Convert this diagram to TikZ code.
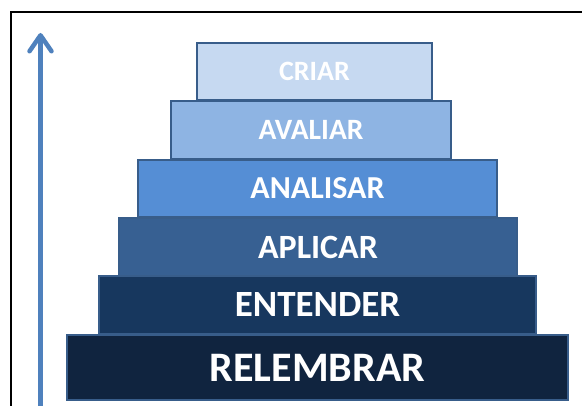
\documentclass[tikz,border=0pt]{standalone}
\usepackage{fontspec}
\setmainfont{Carlito}
\usepackage{tikz}
\usetikzlibrary{arrows.meta}

\definecolor{criarfill}{HTML}{C6D9F1}
\definecolor{avaliarfill}{HTML}{8EB4E3}
\definecolor{analisarfill}{HTML}{558ED5}
\definecolor{aplicarfill}{HTML}{376092}
\definecolor{entenderfill}{HTML}{17375E}
\definecolor{relembrarfill}{HTML}{10243F}
\definecolor{tieredge}{HTML}{385D8A}
\definecolor{arrowblue}{HTML}{4F81BD}

\newcommand{\tiersize}[1]{\fontsize{#1}{#1}\selectfont\bfseries}

\tikzset{
  tier/.style={draw=tieredge, line width=1.8pt, text=white, inner sep=0pt}
}

\begin{document}
\begin{tikzpicture}[x=1pt, y=-1pt]
\useasboundingbox (0,0) rectangle (582,406);
%  frame, cut off at right and bottom
\draw[line width=2pt] (11,406) -- (11,12) -- (582,12);
%  the levels, from bottom to top
\node[tier, fill=relembrarfill, minimum width=501pt, minimum height=65pt, font=\tiersize{42}] (relembrar) at (317.5,367.5) {RELEMBRAR};
\node[tier, fill=entenderfill, minimum width=437pt, minimum height=58pt, font=\tiersize{37}] (entender) at (317.5,305) {ENTENDER};
\node[tier, fill=aplicarfill, minimum width=398pt, minimum height=58pt, font=\tiersize{34}] (aplicar) at (318,247) {APLICAR};
\node[tier, fill=analisarfill, minimum width=359pt, minimum height=57pt, font=\tiersize{32}] (analisar) at (317.5,188.5) {ANALISAR};
\node[tier, fill=avaliarfill, minimum width=280pt, minimum height=58pt, font=\tiersize{29.5}] (avaliar) at (311,130) {AVALIAR};
\node[tier, fill=criarfill, minimum width=235pt, minimum height=57pt, font=\tiersize{28}] (criar) at (314.5,71.5) {CRIAR};
%  arrow on the left
\coordinate (arrowfoot) at (40.5,406);
\coordinate (arrowtip) at (40.5,33);
\draw[arrowblue, line width=4.5pt, -{Straight Barb[length=16pt, width=22pt, round, line width=4.5pt]}] (arrowfoot) -- (arrowtip);
\end{tikzpicture}
\end{document}
